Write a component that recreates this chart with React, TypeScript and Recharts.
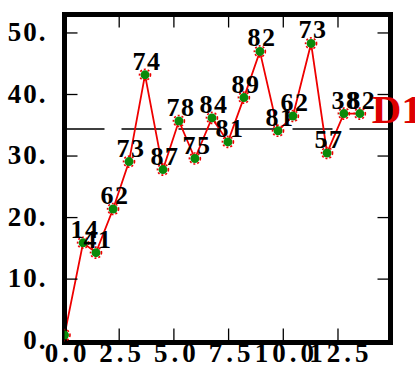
import React from 'react';
import { LineChart, Line, XAxis, YAxis, ReferenceLine, LabelList } from 'recharts';

const xValues = [0, 0.85, 1.44, 2.22, 2.95, 3.68, 4.5, 5.23, 5.96, 6.74, 7.47, 8.2, 8.93, 9.76, 10.44, 11.27, 12.0, 12.77, 13.5];
const yValues = [0.9, 15.9, 14.3, 21.4, 29.1, 43.2, 27.8, 35.7, 29.6, 36.2, 32.3, 39.5, 47.0, 34.1, 36.5, 48.3, 30.5, 36.9, 36.9];
const pointLabels = ['', '14', '41', '62', '73', '74', '87', '78', '75', '84', '81', '89', '82', '81', '62', '73', '57', '38', '82'];
const seriesName = 'D1';
const referenceValue = 34.4;
const xTicks = [0, 2.5, 5, 7.5, 10, 12.5];
const yTicks = [0, 10, 20, 30, 40, 50];
const xDomain: [number, number] = [0, 14.9];
const yDomain: [number, number] = [-0.3, 53];

const data = xValues.map((x, i) => ({ x, y: yValues[i], label: pointLabels[i] }));

const FONT = 'Liberation Serif';
const TICK_LEN = 13;

const BottomTick = (p: any) => (
  <g>
    {p.payload.value !== 0 && (
      <line x1={p.x} x2={p.x} y1={p.y} y2={p.y - TICK_LEN - 1} stroke="#000" strokeWidth={1.3} />
    )}
    <text x={p.x + 3} y={p.y + 19} textAnchor="middle" fontFamily={FONT} fontWeight="bold" fontSize={27} letterSpacing={4} fill="#000">
      {p.payload.value.toFixed(1)}
    </text>
  </g>
);

const LeftTick = (p: any) => (
  <g>
    {p.payload.value !== 0 && (
      <line x1={p.x} x2={p.x + TICK_LEN} y1={p.y} y2={p.y} stroke="#000" strokeWidth={1.3} />
    )}
    <text x={p.x - 17} y={p.y + 8} textAnchor="end" fontFamily={FONT} fontWeight="bold" fontSize={27} letterSpacing={2} fill="#000">
      {`${p.payload.value}.`}
    </text>
  </g>
);

const TopTick = (p: any) => (
  <line x1={p.x} x2={p.x} y1={p.y} y2={p.y + TICK_LEN} stroke="#000" strokeWidth={1.3} />
);

const RightTick = (p: any) => (
  <line x1={p.x} x2={p.x - TICK_LEN} y1={p.y} y2={p.y} stroke="#000" strokeWidth={1.3} />
);

const Dot = (p: any) => (
  <g key={`d${p.index}`}>
    <circle cx={p.cx} cy={p.cy} r={4.5} fill="#0a8a0a" />
    <circle cx={p.cx} cy={p.cy} r={5.5} fill="none" stroke="#ee0000" strokeWidth={1.6} strokeDasharray="2 2" />
  </g>
);

const PointLabel = (p: any) => {
  const { x, y, value, index } = p;
  return (
    <g>
      {value ? (
        <text x={x + 2} y={y - 5} textAnchor="middle" fontFamily={FONT} fontWeight="bold" fontSize={26} letterSpacing={1.5} fill="#000">
          {value}
        </text>
      ) : null}
      {index === data.length - 1 ? (
        <text x={x + 12} y={y + 9} textAnchor="start" fontFamily={FONT} fontWeight="bold" fontSize={41} fill="#dd0000">
          {seriesName}
        </text>
      ) : null}
    </g>
  );
};

const axisLineStyle = { stroke: '#000', strokeWidth: 5, strokeLinecap: 'square' as const };

export default function App() {
  return (
    <div style={{ position: 'absolute', left: 0, top: 0, background: '#fff' }}>
      <LineChart
        width={415}
        height={365}
        data={data}
        margin={{ top: 4.5, right: 14.5, bottom: 2.5, left: 14.5 }}
      >
        <XAxis
          dataKey="x"
          type="number"
          domain={xDomain}
          ticks={xTicks}
          allowDataOverflow
          height={20}
          tickSize={0}
          tickMargin={0}
          tickLine={false}
          axisLine={axisLineStyle}
          tick={BottomTick}
          interval={0}
        />
        <XAxis
          xAxisId="top"
          orientation="top"
          dataKey="x"
          type="number"
          domain={xDomain}
          ticks={xTicks.slice(1)}
          allowDataOverflow
          height={10}
          tickSize={0}
          tickMargin={0}
          tickLine={false}
          axisLine={axisLineStyle}
          tick={TopTick}
          interval={0}
        />
        <YAxis
          type="number"
          domain={yDomain}
          ticks={yTicks}
          allowDataOverflow
          width={50}
          tickSize={0}
          tickMargin={0}
          tickLine={false}
          axisLine={axisLineStyle}
          tick={LeftTick}
          interval={0}
        />
        <YAxis
          yAxisId="right"
          orientation="right"
          type="number"
          domain={yDomain}
          ticks={yTicks.slice(1)}
          allowDataOverflow
          width={10}
          tickSize={0}
          tickMargin={0}
          tickLine={false}
          axisLine={axisLineStyle}
          tick={RightTick}
          interval={0}
        />
        <ReferenceLine
          segment={[{ x: xDomain[0], y: referenceValue }, { x: xDomain[1], y: referenceValue }]}
          stroke="#000"
          strokeWidth={1.5}
          strokeDasharray="40 17"
        />
        <Line
          dataKey="y"
          stroke="#ee0000"
          strokeWidth={1.8}
          dot={Dot}
          activeDot={false}
          isAnimationActive={false}
        >
          <LabelList dataKey="label" content={PointLabel} />
        </Line>
      </LineChart>
    </div>
  );
}
